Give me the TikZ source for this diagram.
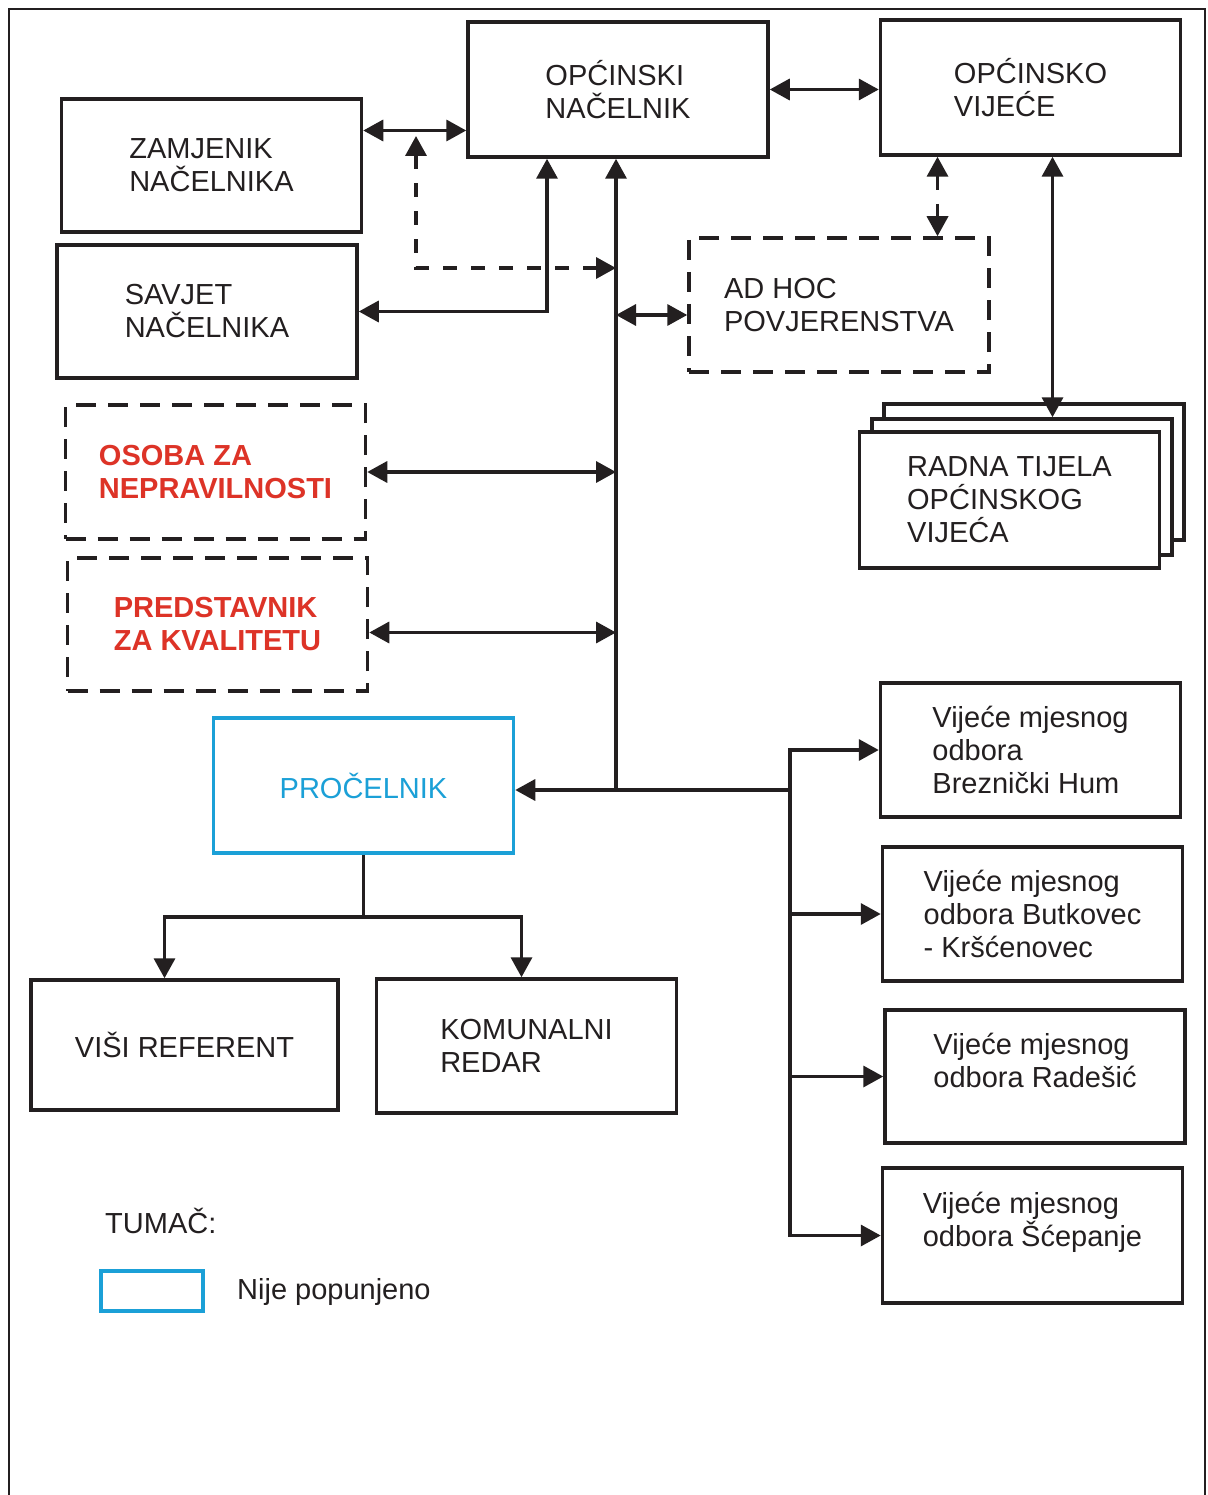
\documentclass[tikz,border=0pt]{standalone}
\usepackage{fontspec}
\setmainfont{Liberation Sans}
\usetikzlibrary{arrows.meta}
\definecolor{nered}{HTML}{DD3327}
\definecolor{neblue}{HTML}{1BA0D7}
\definecolor{ink}{HTML}{231F20}

\begin{document}
\begin{tikzpicture}[x=1pt,y=-1pt,
	box/.style={draw=ink,line width=3.5pt,fill=white,minimum width=300pt,minimum height=134pt,align=left,text=ink,font=\fontsize{29}{33}\selectfont},
	dbox/.style={box,dash pattern=on 20pt off 12pt},
	redtxt/.style={text=nered,font=\fontsize{29}{33}\selectfont\bfseries},
	wire/.style={draw=ink,line width=3.5pt},
	link/.style={wire,-{Triangle[length=20pt,width=21pt]}},
	both/.style={wire,{Triangle[length=20pt,width=21pt]}-{Triangle[length=20pt,width=21pt]}},
	dlink/.style={dash pattern=on 14pt off 14pt}]
	\useasboundingbox (0,0) rectangle (1207,1495);
	\fill[white] (0,0) rectangle (1207,1495);
	\draw[ink,line width=2.5pt] (9,1495) -- (9,9) -- (1205,9) -- (1205,1495);

	% top level
	\node[box,minimum height=135pt] (on) at (618,89.5) {OPĆINSKI\\NAČELNIK};
	\node[box,minimum height=135pt] (ov) at (1030.5,87.5) {OPĆINSKO\\VIJEĆE};
	\node[box,minimum height=133pt] (zn) at (211.5,165.5) {ZAMJENIK\\NAČELNIKA};
	\node[box,minimum height=133pt] (sn) at (207,311.5) {SAVJET\\NAČELNIKA};
	\node[dbox] (adhoc) at (839,305) {AD HOC\\POVJERENSTVA};
	\node[dbox,redtxt] (osoba) at (215.5,472) {OSOBA ZA\\NEPRAVILNOSTI};
	\node[dbox,redtxt,minimum height=133pt] (pred) at (217.5,624.5) {PREDSTAVNIK\\ZA KVALITETU};
	\node[box,draw=neblue,text=neblue,minimum height=135pt] (proc) at (363.5,785.5) {PROČELNIK};

	% radna tijela (stack)
	\node[box,minimum height=136pt] (rback) at (1034,472) {};
	\node[box,minimum height=136pt] (rmid) at (1022,487) {};
	\node[box,minimum height=136pt] (radna) at (1009.5,500) {RADNA TIJELA\\OPĆINSKOG\\VIJEĆA};

	% mjesni odbori
	\node[box] (hum) at (1030.5,750) {Vijeće mjesnog\\odbora\\Breznički Hum};
	\node[box] (but) at (1032.5,914) {Vijeće mjesnog\\odbora Butkovec\\- Kršćenovec};
	\node[box,minimum height=133pt] (rad) at (1035,1076.5) {Vijeće mjesnog\\odbora Radešić\\~};
	\node[box,minimum height=135pt] (sce) at (1032.5,1235.5) {Vijeće mjesnog\\odbora Šćepanje\\~};

	% ispod pročelnika
	\node[box,minimum width=307pt,minimum height=130pt] (visi) at (184.5,1045) {VIŠI REFERENT};
	\node[box] (kom) at (526.5,1046) {KOMUNALNI\\REDAR};

	% tumač
	\node[anchor=west,inner sep=0pt,text=ink,font=\fontsize{29}{33}\selectfont] (tumac) at (105,1221) {TUMAČ:};
	\node[draw=neblue,line width=3.5pt,minimum width=102pt,minimum height=40pt] (leg) at (152,1291) {};
	\node[anchor=west,inner sep=0pt,text=ink,font=\fontsize{29}{33}\selectfont] (legtxt) at (237,1292) {Nije popunjeno};

	% veze
	\coordinate (hub) at (616,790);
	\coordinate (bus) at (790,790);
	\coordinate (tap) at (416,136);
	\draw[both] (on.east) -- (on.east -| ov.west);
	\draw[both] ([yshift=35pt]zn.east) -- ([yshift=35pt]zn.east -| on.west);
	\draw[both,dlink] (tap) |- (hub |- 0,268);
	\draw[both] ([xshift=-71pt]on.south) |- (sn.east);
	\draw[link] (hub) -- (hub |- on.south);
	\draw[both] (hub |- 0,315) -- (adhoc.west |- 0,315);
	\draw[both,dlink] ([xshift=-93pt]ov.south) -- ([xshift=-93pt]ov.south |- adhoc.north);
	\draw[both] ([xshift=22pt]ov.south) -- ([xshift=22pt]ov.south |- rmid.north);
	\draw[both] (osoba.east) -- (osoba.east -| hub);
	\draw[both] ([yshift=-8pt]pred.east) -- ([yshift=-8pt]pred.east -| hub);
	\draw[link] (hub) -- (hub -| proc.east);
	\draw[wire] (hub) -- (bus);
	\foreach \n in {hum,but,rad,sce}
		\draw[link] (bus) |- (\n.west);
	\draw[wire] (proc.south) -- (proc.south |- 0,917) coordinate (split);
	\draw[link] (split) -| ([xshift=-20pt]visi.north);
	\draw[link] (split) -| ([xshift=-5pt]kom.north);
\end{tikzpicture}
\end{document}
